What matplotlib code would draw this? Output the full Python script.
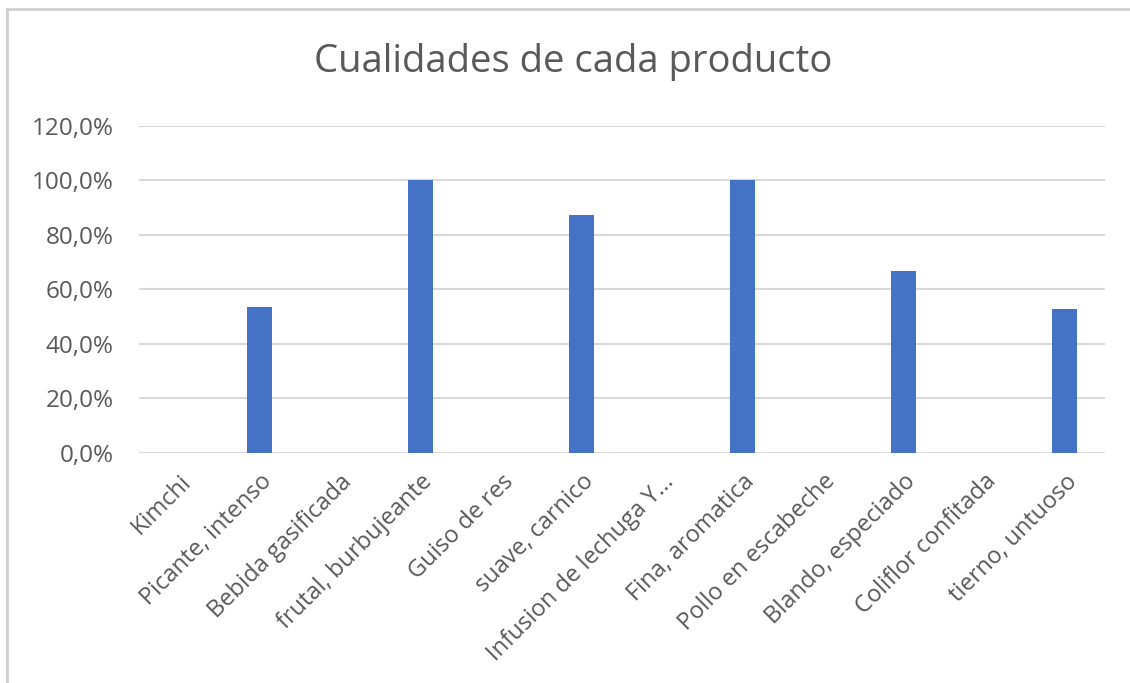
import matplotlib.pyplot as plt
from matplotlib.lines import Line2D
from matplotlib.ticker import FuncFormatter

# datos
categorias = ['Kimchi', 'Picante, intenso', 'Bebida gasificada', 'frutal, burbujeante',
              'Guiso de res', 'suave, carnico', 'Infusion de lechuga Y...', 'Fina, aromatica',
              'Pollo en escabeche', 'Blando, especiado', 'Coliflor confitada', 'tierno, untuoso']
valores = [0, 0.535, 0, 1.0, 0, 0.873, 0, 1.0, 0, 0.668, 0, 0.528]
y_ticks = [0, 0.2, 0.4, 0.6, 0.8, 1.0, 1.2]

plt.rcParams['font.family'] = ['Open Sans', 'DejaVu Sans']
gris = '#595959'

fig = plt.figure(figsize=(11.3, 6.83), dpi=100)
ax = fig.add_axes([0.123, 0.3367, 0.855, 0.4793])

x = list(range(len(categorias)))
ax.bar(x, valores, width=0.31, color='#4472C4', zorder=3)

ax.set_xlim(-0.5, len(categorias) - 0.5)
ax.set_ylim(0, 1.2)
ax.set_yticks(y_ticks)
ax.yaxis.set_major_formatter(FuncFormatter(lambda v, p: f'{v*100:.1f}%'.replace('.', ',')))
ax.grid(axis='y', color='#d9d9d9', linewidth=1.5, zorder=0)
for s in ax.spines.values():
    s.set_visible(False)
ax.tick_params(axis='both', length=0, labelsize=17.5, labelcolor=gris)
ax.tick_params(axis='y', pad=18)

ax.set_xticks(x)
ax.set_xticklabels(categorias, rotation=45, ha='right', va='top',
                   rotation_mode='anchor', fontsize=17)
ax.tick_params(axis='x', pad=12)

fig.text(0.507, 0.909, 'Cualidades de cada producto', ha='center', va='center',
         fontsize=27.5, color=gris)

# borde del grafico
fig.add_artist(Line2D([7/1130, 7/1130], [0, 1 - 9/683], color='#d0d0d0', linewidth=2))
fig.add_artist(Line2D([7/1130, 1], [1 - 9/683, 1 - 9/683], color='#d0d0d0', linewidth=2))

plt.savefig('out.png', dpi=100)
